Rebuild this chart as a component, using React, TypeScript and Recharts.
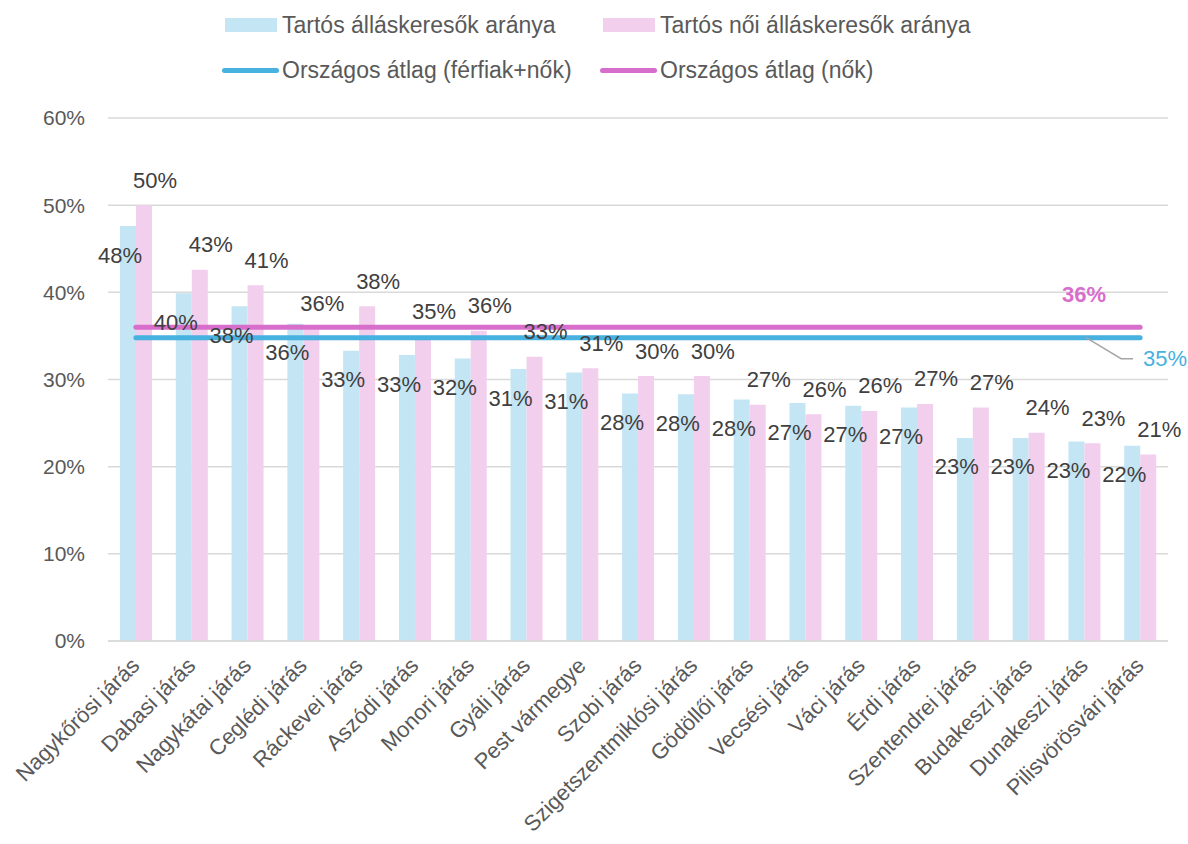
import {
  Bar,
  CartesianGrid,
  ComposedChart,
  LabelList,
  Legend,
  Line,
  XAxis,
  YAxis,
} from "recharts";

const categories = [
  "Nagykőrösi járás",
  "Dabasi járás",
  "Nagykátai járás",
  "Ceglédi járás",
  "Ráckevei járás",
  "Aszódi járás",
  "Monori járás",
  "Gyáli járás",
  "Pest vármegye",
  "Szobi járás",
  "Szigetszentmiklósi járás",
  "Gödöllői járás",
  "Vecsési járás",
  "Váci járás",
  "Érdi járás",
  "Szentendrei járás",
  "Budakeszi járás",
  "Dunakeszi járás",
  "Pilisvörösvári járás",
];

// Tartós álláskeresők aránya (%)
const totalShare = [
  47.6, 39.9, 38.4, 36.4, 33.3, 32.8, 32.4, 31.2, 30.8, 28.4, 28.3, 27.7, 27.3,
  27.0, 26.8, 23.3, 23.3, 22.9, 22.4,
];
// Tartós női álláskeresők aránya (%)
const womenShare = [
  50.0, 42.6, 40.8, 35.9, 38.4, 34.9, 35.6, 32.6, 31.3, 30.4, 30.4, 27.1, 26.0,
  26.4, 27.2, 26.8, 23.9, 22.7, 21.4,
];

const avgAll = 34.8; // Országos átlag (férfiak+nők)
const avgWomen = 36.0; // Országos átlag (nők)

const yTicks = [0, 10, 20, 30, 40, 50, 60];

const BLUE_BAR = "#c4e5f4";
const PINK_BAR = "#f2cfed";
const BLUE_LINE = "#47b1e0";
const PINK_LINE = "#d86ecc";
const FONT = "'Liberation Sans', Arial, sans-serif";

// legend reads row by row, same as the original
const legendItems = [
  { name: "Tartós álláskeresők aránya", color: BLUE_BAR, kind: "rect" },
  { name: "Tartós női álláskeresők aránya", color: PINK_BAR, kind: "rect" },
  { name: "Országos átlag (férfiak+nők)", color: BLUE_LINE, kind: "line" },
  { name: "Országos átlag (nők)", color: PINK_LINE, kind: "line" },
];

const rows = categories.map((name, i) => ({
  name,
  total: totalShare[i],
  women: womenShare[i],
  avgAll,
  avgWomen,
}));

const pct = (v: number) => `${Math.round(v)}%`;

// excel put the labels off-centre, so nudge them the same way
const barLabel = (dx: number, dy: number) => (props: any) => {
  const { x, y, width, value } = props;
  return (
    <text
      x={Number(x) + Number(width) / 2 + dx}
      y={Number(y) + dy}
      textAnchor="middle"
      dominantBaseline="central"
      fontSize={22}
      fill="#404040"
      fontFamily={FONT}
    >
      {pct(value)}
    </text>
  );
};

const last = categories.length - 1;

const womenAvgLabel = (props: any) => {
  const { x, y, index, value } = props;
  if (index !== last) return null;
  return (
    <text
      x={x - 56}
      y={y - 33}
      textAnchor="middle"
      dominantBaseline="central"
      fontSize={22}
      fontWeight="bold"
      fill={PINK_LINE}
      fontFamily={FONT}
    >
      {pct(value)}
    </text>
  );
};

const allAvgLabel = (props: any) => {
  const { x, y, index, value } = props;
  if (index !== last) return null;
  return (
    <g>
      <polyline
        points={`${x - 54},${y} ${x - 19},${y + 21} ${x - 7},${y + 21}`}
        fill="none"
        stroke="#a6a6a6"
        strokeWidth={1.5}
      />
      <text
        x={x + 3}
        y={y + 21}
        textAnchor="start"
        dominantBaseline="central"
        fontSize={22}
        fill={BLUE_LINE}
        fontFamily={FONT}
      >
        {pct(value)}
      </text>
    </g>
  );
};

const CategoryTick = (props: any) => {
  const { x, y, payload } = props;
  const px = x + 5;
  const py = y + 26;
  return (
    <text
      x={px}
      y={py}
      transform={`rotate(-45, ${px}, ${py})`}
      textAnchor="end"
      fontSize={22}
      fill="#595959"
      fontFamily={FONT}
    >
      {payload.value}
    </text>
  );
};

const LegendBox = () => (
  <div style={{ position: "relative", width: 1188, height: 118 }}>
    {legendItems.map((item, i) => {
      const col = i % 2;
      const row = Math.floor(i / 2);
      const left = col === 0 ? 222 : 600;
      const top = row === 0 ? 25 : 70;
      return (
        <div
          key={item.name}
          style={{
            position: "absolute",
            left,
            top: top - 15,
            height: 30,
            display: "flex",
            alignItems: "center",
            fontFamily: FONT,
            fontSize: 23,
            color: "#595959",
            whiteSpace: "nowrap",
          }}
        >
          {item.kind === "line" ? (
            <span
              style={{
                display: "inline-block",
                width: 57,
                height: 5,
                borderRadius: 3,
                background: item.color,
                marginRight: 3,
              }}
            />
          ) : (
            <span
              style={{
                display: "inline-block",
                width: 52,
                height: 14,
                marginLeft: 3,
                background: item.color,
                marginRight: 5,
              }}
            />
          )}
          {item.name}
        </div>
      );
    })}
  </div>
);

export default function App() {
  return (
    <div style={{ position: "absolute", left: 0, top: 0, background: "#fff" }}>
      <ComposedChart
        width={1188}
        height={844}
        data={rows}
        margin={{ top: 0, right: 20, bottom: 0, left: 8 }}
        barGap={0}
      >
        <CartesianGrid vertical={false} stroke="#d9d9d9" strokeWidth={1.5} />
        <XAxis
          dataKey="name"
          height={203}
          interval={0}
          tickLine={false}
          tickSize={0}
          tickMargin={0}
          axisLine={{ stroke: "#d9d9d9", strokeWidth: 1.5 }}
          tick={<CategoryTick />}
        />
        <YAxis
          width={100}
          domain={[0, 60]}
          ticks={yTicks}
          tickFormatter={(v) => `${v}%`}
          axisLine={false}
          tickLine={false}
          tickSize={0}
          tickMargin={23}
          tick={{ fill: "#595959", fontSize: 21, fontFamily: FONT }}
        />
        <Legend
          verticalAlign="top"
          align="left"
          wrapperStyle={{ top: 0, left: 0 }}
          content={<LegendBox />}
        />
        <Bar
          dataKey="total"
          name="Tartós álláskeresők aránya"
          fill={BLUE_BAR}
          barSize={16}
          isAnimationActive={false}
        >
          <LabelList dataKey="total" content={barLabel(-8, 29)} />
        </Bar>
        <Bar
          dataKey="women"
          name="Tartós női álláskeresők aránya"
          fill={PINK_BAR}
          barSize={16}
          isAnimationActive={false}
        >
          <LabelList dataKey="women" content={barLabel(11, -25)} />
        </Bar>
        <Line
          dataKey="avgAll"
          name="Országos átlag (férfiak+nők)"
          stroke={BLUE_LINE}
          strokeWidth={5}
          strokeLinecap="round"
          dot={false}
          isAnimationActive={false}
          label={allAvgLabel}
        />
        <Line
          dataKey="avgWomen"
          name="Országos átlag (nők)"
          stroke={PINK_LINE}
          strokeWidth={5}
          strokeLinecap="round"
          dot={false}
          isAnimationActive={false}
          label={womenAvgLabel}
        />
      </ComposedChart>
    </div>
  );
}
